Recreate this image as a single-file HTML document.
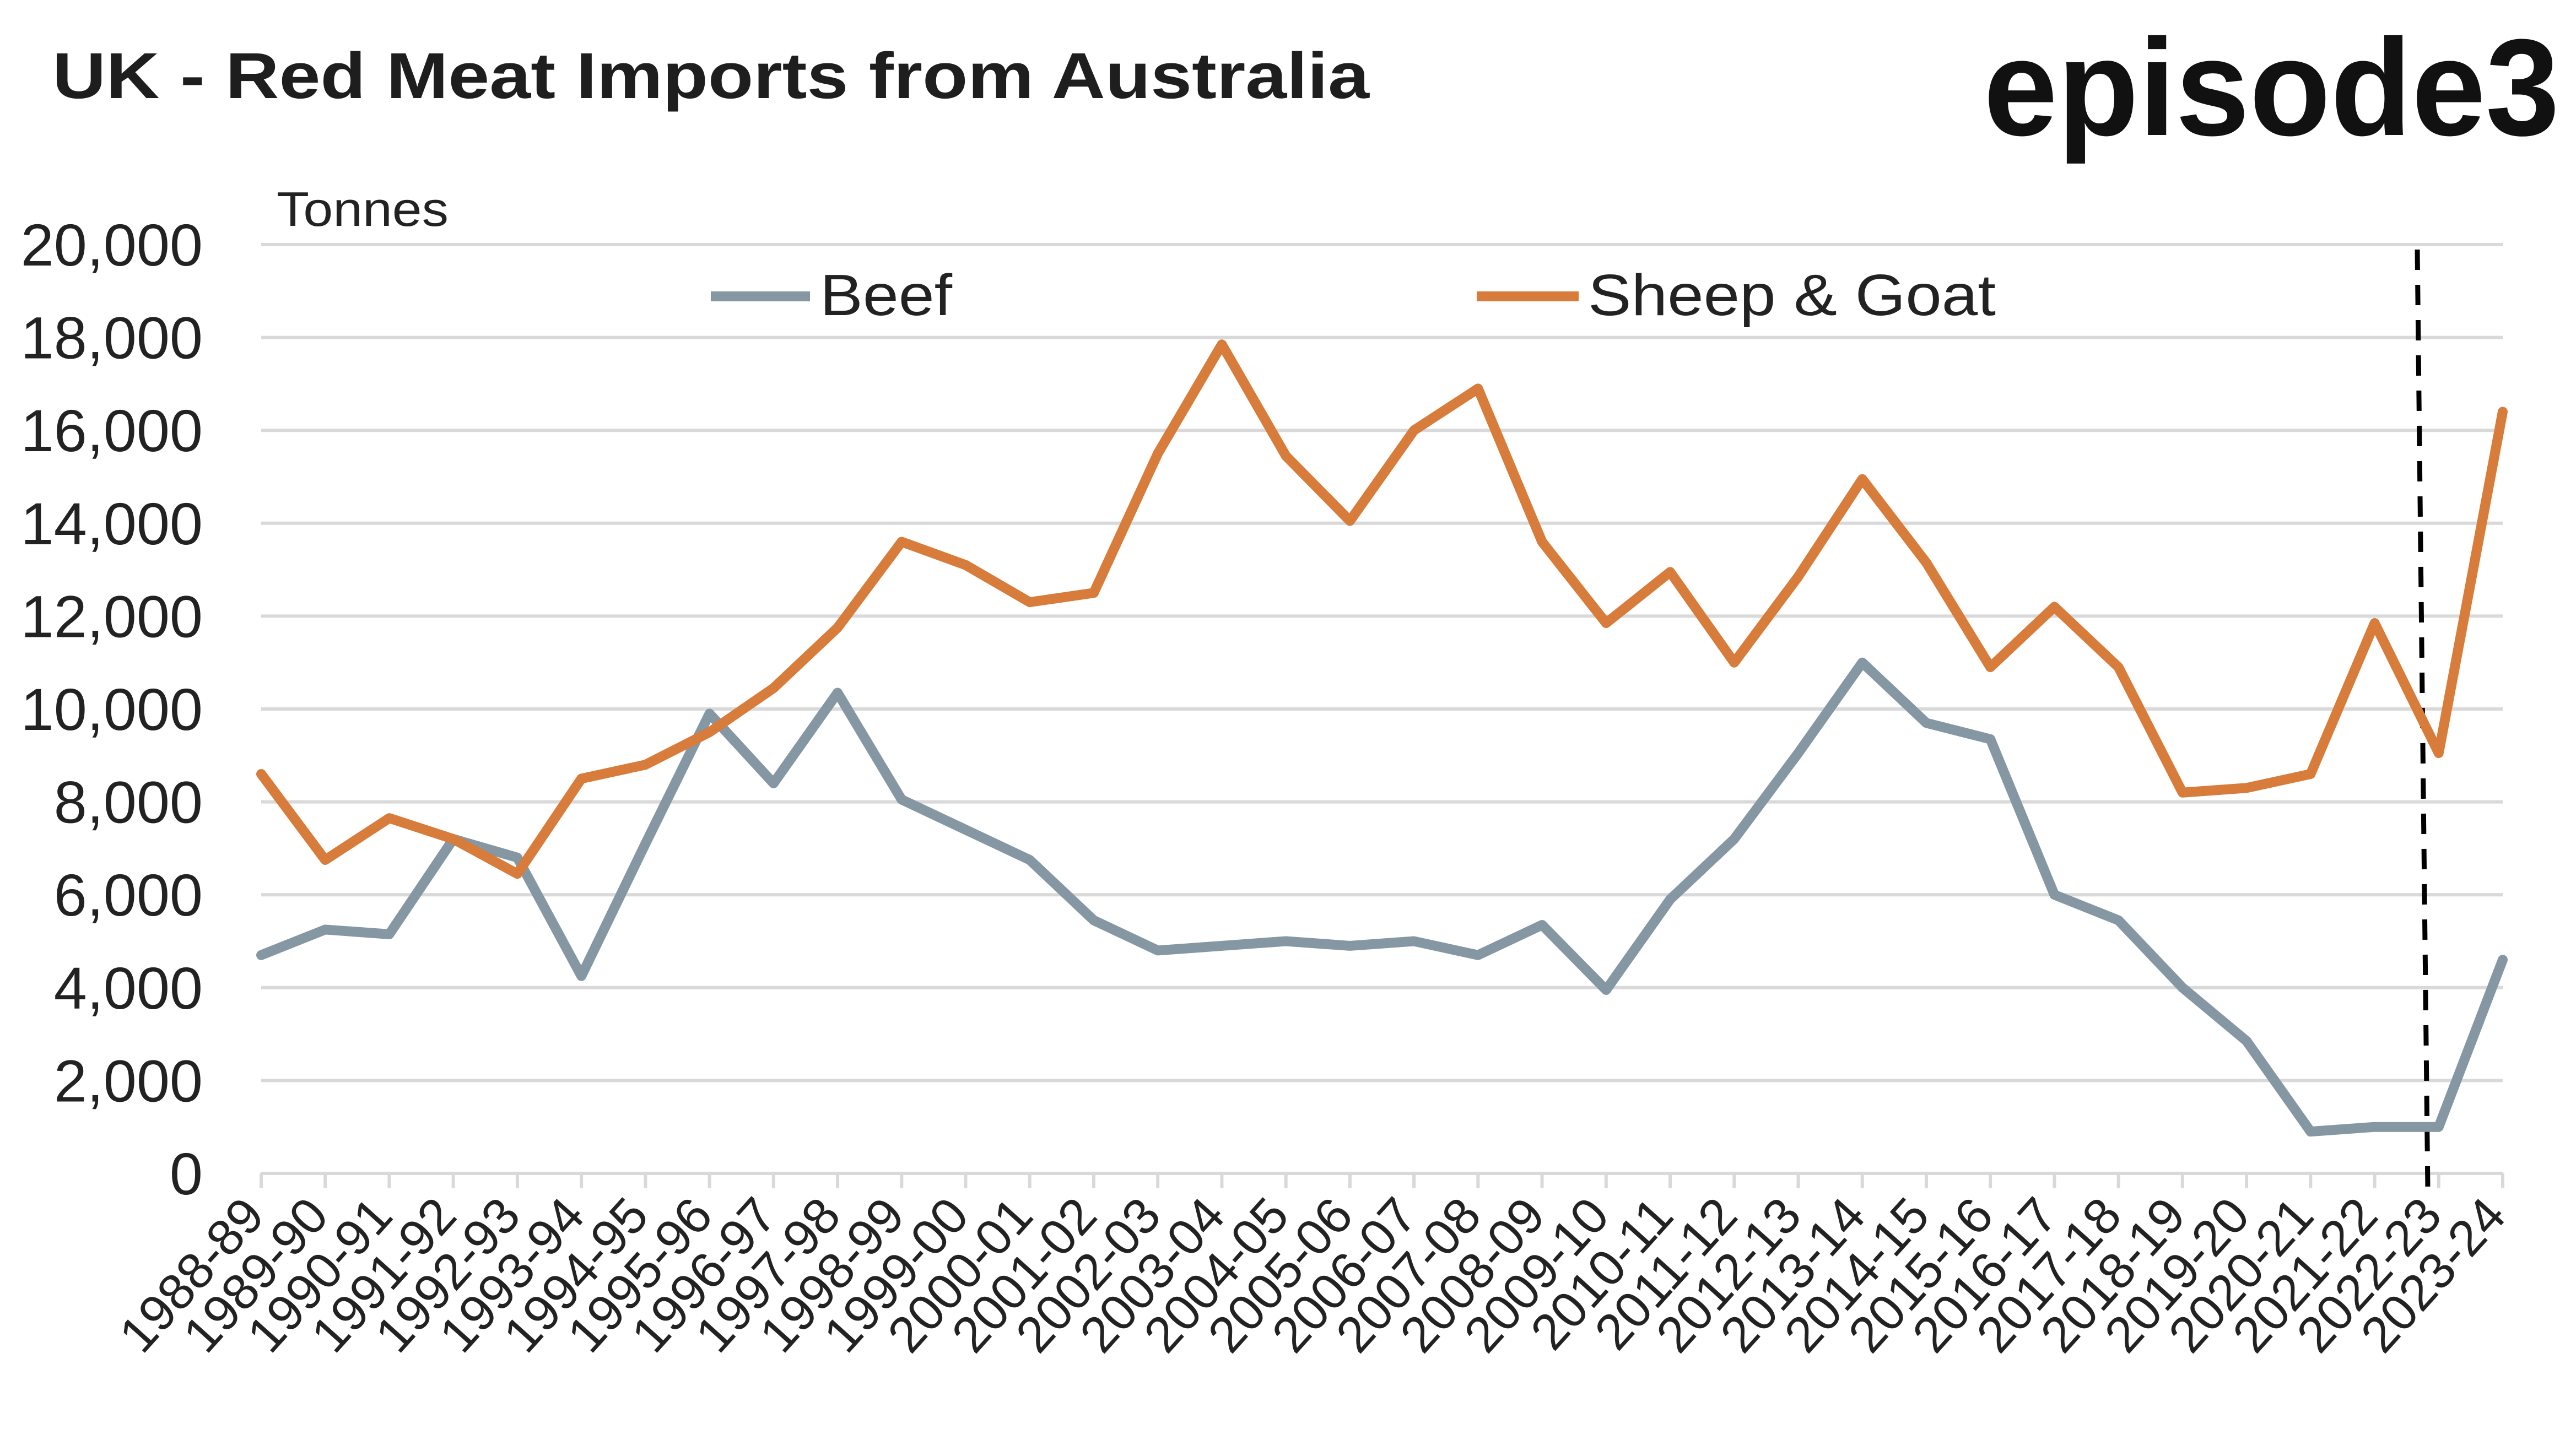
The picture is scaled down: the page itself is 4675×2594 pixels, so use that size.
<!DOCTYPE html>
<html><head><meta charset="utf-8"><style>
html,body{margin:0;padding:0;background:#fff;}
svg{display:block;font-family:"Liberation Sans",sans-serif;}
</style></head><body>
<svg id="chart" width="4675" height="2594" viewBox="0 0 4675 2594" xmlns="http://www.w3.org/2000/svg">
<text x="95" y="178" font-size="118" font-weight="bold" fill="#1e1e1e" textLength="2390" lengthAdjust="spacingAndGlyphs">UK - Red Meat Imports from Australia</text>
<text x="3600" y="245" font-size="250" font-weight="bold" fill="#111" textLength="1045" lengthAdjust="spacingAndGlyphs">episode3</text>
<text x="502" y="410" font-size="88" fill="#222" textLength="312" lengthAdjust="spacingAndGlyphs">Tonnes</text>
<g id="grid"></g>
<g id="yticks"></g>
<g id="xaxis"></g>
<line x1="4387" y1="453" x2="4406" y2="2160" stroke="#000" stroke-width="9" stroke-dasharray="37,27"/>
<g id="series"></g>
<g>
<line x1="1290" y1="538" x2="1470" y2="538" stroke="#8497a3" stroke-width="18"/>
<text x="1488" y="572" font-size="106" fill="#222" textLength="240" lengthAdjust="spacingAndGlyphs">Beef</text>
<line x1="2680" y1="538" x2="2865" y2="538" stroke="#d77c3a" stroke-width="18"/>
<text x="2882" y="572" font-size="106" fill="#222" textLength="740" lengthAdjust="spacingAndGlyphs">Sheep &amp; Goat</text>
</g>
</svg>
<script>
const categories=["1988-89","1989-90","1990-91","1991-92","1992-93","1993-94","1994-95","1995-96","1996-97","1997-98","1998-99","1999-00","2000-01","2001-02","2002-03","2003-04","2004-05","2005-06","2006-07","2007-08","2008-09","2009-10","2010-11","2011-12","2012-13","2013-14","2014-15","2015-16","2016-17","2017-18","2018-19","2019-20","2020-21","2021-22","2022-23","2023-24"];
const beef=[4700,5250,5150,7200,6800,4250,7100,9900,8400,10350,8050,7400,6750,5450,4800,4900,5000,4900,5000,4700,5350,3950,5900,7200,9050,11000,9700,9350,6000,5450,4000,2850,900,1000,1000,4600];
const sheep=[8600,6750,7650,7200,6450,8500,8800,9500,10450,11750,13600,13100,12300,12500,15500,17850,15450,14050,16000,16900,13600,11850,12950,11000,12850,14950,13150,10900,12200,10900,8200,8300,8600,11850,9050,16400];
const yTicks=[0,2000,4000,6000,8000,10000,12000,14000,16000,18000,20000];
const yTickLabels=["0","2,000","4,000","6,000","8,000","10,000","12,000","14,000","16,000","18,000","20,000"];
const NS="http://www.w3.org/2000/svg";
const X0=474,X1=4542,Y0=2130,Y1=444;
function xs(i){return X0+(X1-X0)*i/(categories.length-1);}
function ys(v){return Y0-(Y0-Y1)*v/20000;}
function mk(t,a){const e=document.createElementNS(NS,t);for(const k in a)e.setAttribute(k,a[k]);return e;}
const grid=document.getElementById('grid'),yt=document.getElementById('yticks'),xa=document.getElementById('xaxis'),se=document.getElementById('series');
yTicks.forEach((v,i)=>{
 const l=mk('line',{x1:X0,x2:X1,y1:ys(v),y2:ys(v),stroke:'#d9d9d9','stroke-width':6});
 
 
 grid.appendChild(l);
 const t=mk('text',{x:368,y:ys(v)+38,'font-size':108,'text-anchor':'end',fill:'#222'});
 t.textContent=yTickLabels[i];
 
 
 yt.appendChild(t);
});
categories.forEach((c,i)=>{
 const x=xs(i);
 const tk=mk('line',{x1:x,x2:x,y1:Y0,y2:Y0+27,stroke:'#d9d9d9','stroke-width':6});
 
 
 xa.appendChild(tk);
 const t=mk('text',{x:x+10,y:Y0+80,'font-size':92,'text-anchor':'end',fill:'#222',transform:`rotate(-48 ${x+10} ${Y0+80})`});
 t.textContent=c;
 
 
 xa.appendChild(t);
});
function line(d,col,name){
 const p=mk('polyline',{points:d.map((v,i)=>xs(i)+','+ys(v)).join(' '),fill:'none',stroke:col,'stroke-width':18,'stroke-linejoin':'round','stroke-linecap':'round'});
 
 
 se.appendChild(p);
}
line(beef,'#8497a3','beef-line');
line(sheep,'#d77c3a','sheep-goat-line');
</script>
</body></html>
